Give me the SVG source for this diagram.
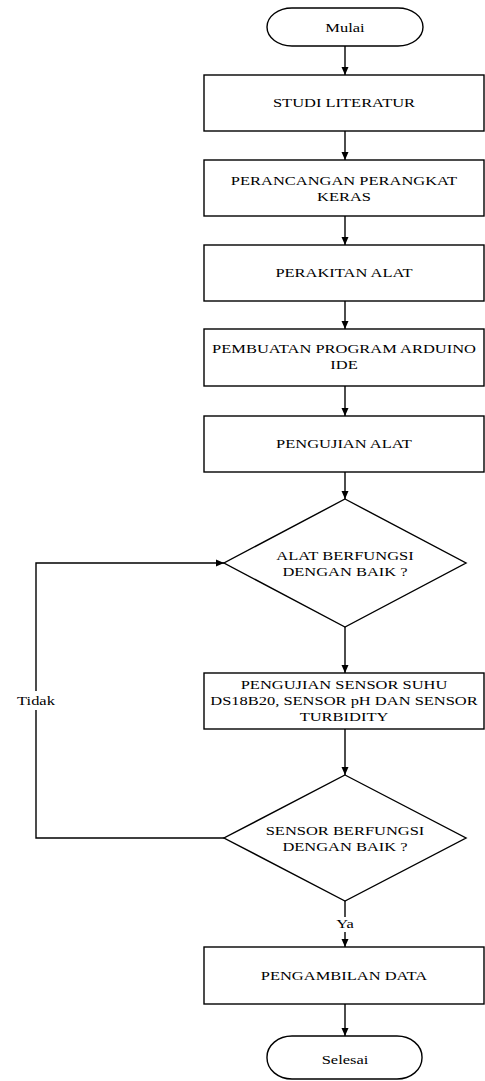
<svg xmlns="http://www.w3.org/2000/svg" width="485" height="1081" viewBox="0 0 485 1081">
<style>
.n{fill:#fff;stroke:#000;stroke-width:1.4}
.c{fill:none;stroke:#000;stroke-width:1.4}
.t{font-family:"Liberation Serif","Times New Roman",serif;font-size:13.5px;fill:#000;text-anchor:middle}
</style>
<defs>
<marker id="ah" markerWidth="8" markerHeight="8" viewBox="0 0 8 8" refX="8" refY="4" orient="auto" markerUnits="userSpaceOnUse">
<path d="M0,0.5 L8,4 L0,7.5 Z" fill="#000"/>
</marker>
</defs>
<rect width="485" height="1081" fill="#fff"/>
<g id="connectors">
<line class="c" x1="345" y1="46" x2="345" y2="75" marker-end="url(#ah)"/>
<line class="c" x1="345" y1="131" x2="345" y2="160" marker-end="url(#ah)"/>
<line class="c" x1="345" y1="216" x2="345" y2="245" marker-end="url(#ah)"/>
<line class="c" x1="345" y1="301" x2="345" y2="329" marker-end="url(#ah)"/>
<line class="c" x1="345" y1="386" x2="345" y2="416" marker-end="url(#ah)"/>
<line class="c" x1="345" y1="472" x2="345" y2="499" marker-end="url(#ah)"/>
<line class="c" x1="345" y1="627" x2="345" y2="673" marker-end="url(#ah)"/>
<line class="c" x1="345" y1="729" x2="345" y2="775" marker-end="url(#ah)"/>
<line class="c" x1="345" y1="901" x2="345" y2="917"/>
<line class="c" x1="345" y1="932" x2="345" y2="947" marker-end="url(#ah)"/>
<line class="c" x1="345" y1="1004" x2="345" y2="1036" marker-end="url(#ah)"/>
<polyline class="c" points="224,838 36,838 36,710"/>
<polyline class="c" points="36,691 36,563 224,563" marker-end="url(#ah)"/>
<text class="t" transform="translate(36,705) scale(1.22,1)">Tidak</text>
<text class="t" transform="translate(345,928) scale(1.22,1)">Ya</text>
</g>
<g id="mulai">
<rect class="n" x="267" y="8" width="156" height="38" rx="25" ry="19"/>
<text class="t" transform="translate(345,32) scale(1.22,1)">Mulai</text>
</g>
<g id="studi">
<rect class="n" x="204" y="75" width="280" height="56"/>
<text class="t" transform="translate(344,107) scale(1.22,1)">STUDI LITERATUR</text>
</g>
<g id="perancangan">
<rect class="n" x="204" y="160" width="280" height="56"/>
<text class="t" transform="translate(344,185) scale(1.22,1)"><tspan x="0" y="0">PERANCANGAN PERANGKAT</tspan><tspan x="0" y="15.7">KERAS</tspan></text>
</g>
<g id="perakitan">
<rect class="n" x="204" y="245" width="280" height="56"/>
<text class="t" transform="translate(344,277) scale(1.22,1)">PERAKITAN ALAT</text>
</g>
<g id="pembuatan">
<rect class="n" x="204" y="329" width="280" height="57"/>
<text class="t" transform="translate(344,353) scale(1.22,1)"><tspan x="0" y="0">PEMBUATAN PROGRAM ARDUINO</tspan><tspan x="0" y="16">IDE</tspan></text>
</g>
<g id="pengujian">
<rect class="n" x="204" y="416" width="280" height="56"/>
<text class="t" transform="translate(344,448) scale(1.22,1)">PENGUJIAN ALAT</text>
</g>
<g id="decision1">
<polygon class="n" points="345,499 466,563 345,627 224,563"/>
<text class="t" transform="translate(345,560) scale(1.22,1)"><tspan x="0" y="0">ALAT BERFUNGSI</tspan><tspan x="0" y="16">DENGAN BAIK ?</tspan></text>
</g>
<g id="sensor-test">
<rect class="n" x="204" y="673" width="280" height="56"/>
<text class="t" transform="translate(344,689) scale(1.22,1)"><tspan x="0" y="0">PENGUJIAN SENSOR SUHU</tspan><tspan x="0" y="16.3">DS18B20, SENSOR pH DAN SENSOR</tspan><tspan x="0" y="32">TURBIDITY</tspan></text>
</g>
<g id="decision2">
<polygon class="n" points="345,775 466,838 345,901 224,838"/>
<text class="t" transform="translate(345,835) scale(1.22,1)"><tspan x="0" y="0">SENSOR BERFUNGSI</tspan><tspan x="0" y="16">DENGAN BAIK ?</tspan></text>
</g>
<g id="pengambilan">
<rect class="n" x="204" y="947" width="280" height="57"/>
<text class="t" transform="translate(344,980) scale(1.22,1)">PENGAMBILAN DATA</text>
</g>
<g id="selesai">
<rect class="n" x="267" y="1036" width="155" height="43" rx="25" ry="21"/>
<text class="t" transform="translate(345,1064) scale(1.22,1)">Selesai</text>
</g>
</svg>
